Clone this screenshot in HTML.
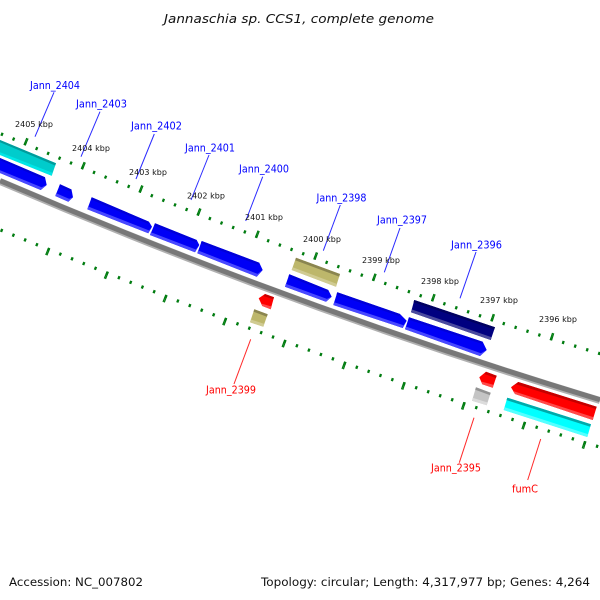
<!DOCTYPE html>
<html><head><meta charset="utf-8"><style>
html,body{margin:0;padding:0;background:#fff}
svg{display:block}
text{font-family:"DejaVu Sans","Liberation Sans",sans-serif}
.g{font-size:10.6px;fill:#0000ff}
.r{font-size:10.6px;fill:#ff0000}
.k{font-size:8px;fill:#111}
.f{font-size:11.5px;fill:#111}
</style></head><body>
<svg width="600" height="600" viewBox="0 0 600 600" xmlns="http://www.w3.org/2000/svg">
<defs>
<g id="o">
<path pathLength="60" d="M-32 118L26 141.7"/><path pathLength="60" d="M26 141.7L83.3 165.7"/><path pathLength="60" d="M83.3 165.7L141 189"/><path pathLength="60" d="M141 189L199 212"/><path pathLength="60" d="M199 212L257.3 234.3"/><path pathLength="60" d="M257.3 234.3L315.7 256"/><path pathLength="60" d="M315.7 256L374.3 277.3"/><path pathLength="60" d="M374.3 277.3L433.3 297.7"/><path pathLength="60" d="M433.3 297.7L492.7 317.7"/><path pathLength="60" d="M492.7 317.7L552 336.7"/><path pathLength="60" d="M552 336.7L612 355"/>
</g>
<g id="i">
<path pathLength="60" d="M-11 228L47.7 251.7"/><path pathLength="60" d="M47.7 251.7L106.3 275.3"/><path pathLength="60" d="M106.3 275.3L165 298.7"/><path pathLength="60" d="M165 298.7L224.7 321.7"/><path pathLength="60" d="M224.7 321.7L284 343.7"/><path pathLength="60" d="M284 343.7L344 365.5"/><path pathLength="60" d="M344 365.5L403.3 386"/><path pathLength="60" d="M403.3 386L463.3 406"/><path pathLength="60" d="M463.3 406L523.7 425.7"/><path pathLength="60" d="M523.7 425.7L584 445"/><path pathLength="60" d="M584 445L645 463"/>
</g>
</defs>

<text x="164" y="23" font-size="12" font-style="italic" fill="#111" textLength="270" lengthAdjust="spacingAndGlyphs">Jannaschia sp. CCS1, complete genome</text>

<!-- ticks -->
<g fill="none" stroke="#007c10">
<use href="#o" stroke-width="3.2" stroke-dasharray="2.2 9.8" stroke-dashoffset="1.1" transform="translate(-0.8 2.1)"/>
<use href="#o" stroke-width="7.5" stroke-dasharray="2.4 57.6" stroke-dashoffset="1.2"/>
<use href="#i" stroke-width="3.2" stroke-dasharray="2.2 9.8" stroke-dashoffset="1.1" transform="translate(0.9 -2.3)"/>
<use href="#i" stroke-width="7.5" stroke-dasharray="2.4 57.6" stroke-dashoffset="1.2"/>
</g>

<!-- backbone -->
<g fill="none">
<path d="M0 181.5Q300 310 600 400.5" stroke="#b0b0b0" stroke-width="7"/>
<path d="M0 180.7Q300 309.2 600 399.7" stroke="#787878" stroke-width="5"/>
</g>

<!-- teal 2404 -->
<polygon points="0,140 56,163.3 51.7,175.7 0,155" fill="#00cccc"/>
<polygon points="0,140 56,163.3 55.2,165.5 0,142.2" fill="#009c9c"/>
<polygon points="0,152.2 52.6,172.9 51.7,175.7 0,155" fill="#00e6e6"/>

<!-- blue genes -->
<g fill="#0000f6">
<polygon points="0,158 45,177.3 46.7,185 40.7,190 0,173"/>
<polygon points="60,184.3 71.5,189.5 73,197.3 68.3,201.7 55.3,196"/>
<polygon points="91.7,197.3 149,221.7 152,226.7 148.3,233.3 87.3,209.3"/>
<polygon points="155,223.3 196.7,240 199.3,245 195,252.3 150,235"/>
<polygon points="201.7,241 259.3,262.7 262.7,270 256.7,276.7 197.3,253.3"/>
<polygon points="289.3,274.3 328.3,290 331.7,296.7 326,301.7 285,286.7"/>
<polygon points="337.3,292.3 400,314 406.7,320.7 402.7,328 333.3,305"/>
<polygon points="409,317.3 482.7,341.7 486.7,350 480,356 405,329.3"/>
</g>
<g fill="#0000d8">
<polygon points="0,158 45,177.3 44.2,179.5 0,160.2"/>
<polygon points="60,184.3 71.5,189.5 70.7,191.7 59.2,186.5"/>
<polygon points="91.7,197.3 149,221.7 148.2,223.9 90.9,199.5"/>
<polygon points="155,223.3 196.7,240 195.9,242.2 154.2,225.5"/>
<polygon points="201.7,241 259.3,262.7 258.5,264.9 200.9,243.2"/>
<polygon points="289.3,274.3 328.3,290 327.5,292.2 288.5,276.5"/>
<polygon points="337.3,292.3 400,314 399.2,316.2 336.5,294.5"/>
<polygon points="409,317.3 482.7,341.7 481.9,343.9 408.2,319.5"/>
</g>
<g fill="#4848ff">
<polygon points="0,173 40.7,190 46.7,185 41.6,187.2 0,170.2"/>
<polygon points="55.3,196 68.3,201.7 73,197.3 69.2,198.9 56.2,193.2"/>
<polygon points="87.3,209.3 148.3,233.3 152,226.7 149.2,230.5 88.2,206.5"/>
<polygon points="150,235 195,252.3 199.3,245 195.9,249.5 150.9,232.2"/>
<polygon points="197.3,253.3 256.7,276.7 262.7,270 257.6,273.9 198.2,250.5"/>
<polygon points="285,286.7 326,301.7 331.7,296.7 326.9,298.9 285.9,283.9"/>
<polygon points="333.3,305 402.7,328 406.7,320.7 403.6,325.2 334.2,302.2"/>
<polygon points="405,329.3 480,356 486.7,350 480.9,353.2 405.9,326.5"/>
</g>

<!-- khaki 2398 -->
<polygon points="296,257.7 340,274 336,286.7 291.7,270" fill="#bdb76b"/>
<polygon points="296,257.7 340,274 339.2,276.6 295.2,260.2" fill="#8a8550"/>
<polygon points="292.6,267.2 336.9,283.9 336,286.7 291.7,270" fill="#d0cb92"/>

<!-- navy 2396 -->
<polygon points="414.3,300 495,327.3 490.7,340 411,312.3" fill="#000080"/>
<polygon points="414.3,300 495,327.3 494.2,329.5 413.5,302.2" fill="#000060"/>
<polygon points="411.9,309.5 491.6,337.2 490.7,340 411,312.3" fill="#4a4a9e"/>

<!-- red 2399 small -->
<polygon points="265,294 274,297.3 270.7,309.3 262.3,306 258.7,298.3" fill="#ff0000"/>
<polygon points="265,294 274,297.3 273.3,299.3 263.5,296" fill="#c80000"/>
<polygon points="262.3,306 270.7,309.3 271.5,306.5 261,303.5" fill="#ff4a4a"/>

<!-- khaki 2399 -->
<polygon points="254.3,309.3 267.7,314.3 263.3,326.7 250,322.3" fill="#bdb76b"/>
<polygon points="254.3,309.3 267.7,314.3 266.9,316.7 253.5,311.7" fill="#8a8550"/>
<polygon points="250.9,319.5 264.2,323.9 263.3,326.7 250,322.3" fill="#d0cb92"/>

<!-- red 2395 small -->
<polygon points="486,371.7 496.7,375.7 492.7,387.7 482.3,384.3 479.3,377.3" fill="#ff0000"/>
<polygon points="486,371.7 496.7,375.7 495.9,378 484.5,374" fill="#c80000"/>
<polygon points="482.3,384.3 492.7,387.7 493.6,384.9 481.2,381.5" fill="#ff4a4a"/>

<!-- gray 2395 -->
<polygon points="476,387.3 490.7,392.7 486.7,405.3 472,400.7" fill="#c4c4c4"/>
<polygon points="476,387.3 490.7,392.7 489.9,395.1 475.2,389.7" fill="#929292"/>
<polygon points="472.9,397.9 487.6,402.5 486.7,405.3 472,400.7" fill="#dcdcdc"/>

<!-- red big -->
<polygon points="518.3,382 596.7,406.7 592.7,420 515,394 511,387.3" fill="#ff0000"/>
<polygon points="518.3,382 596.7,406.7 595.9,409 516,384.3 511,387.3" fill="#c40000"/>
<polygon points="515,394 592.7,420 593.6,417.2 513,391" fill="#ff4a4a"/>

<!-- cyan fumC -->
<polygon points="507.3,397.7 591,424.3 587.3,437 503.7,410" fill="#00ffff"/>
<polygon points="507.3,397.7 591,424.3 590.2,426.7 506.5,400.1" fill="#00aaaa"/>
<polygon points="504.6,407.2 588.2,434.2 587.3,437 503.7,410" fill="#55ffff"/>

<!-- connectors -->
<g stroke="#2a2aff" stroke-width="1" fill="none">
<path d="M54 92.3L35 136.7"/>
<path d="M100 111.7L81 156.7"/>
<path d="M154.3 134L136 179"/>
<path d="M209 155L191 200"/>
<path d="M262.7 176.7L245.7 221"/>
<path d="M340.3 205L323.3 250.7"/>
<path d="M400 228L384.3 272.3"/>
<path d="M476 252L460 298.3"/>
</g>
<g stroke="#ff2a2a" stroke-width="1" fill="none">
<path d="M250.7 339.3L234 384"/>
<path d="M474 417.7L459.3 462.7"/>
<path d="M540.7 439L527.7 480"/>
</g>

<!-- gene labels -->
<text class="g" x="30" y="89" textLength="50" lengthAdjust="spacingAndGlyphs">Jann_2404</text>
<text class="g" x="76" y="107.5" textLength="51" lengthAdjust="spacingAndGlyphs">Jann_2403</text>
<text class="g" x="131" y="129.5" textLength="51" lengthAdjust="spacingAndGlyphs">Jann_2402</text>
<text class="g" x="185" y="151.5" textLength="50" lengthAdjust="spacingAndGlyphs">Jann_2401</text>
<text class="g" x="239" y="172.5" textLength="50" lengthAdjust="spacingAndGlyphs">Jann_2400</text>
<text class="g" x="316.5" y="201.5" textLength="50" lengthAdjust="spacingAndGlyphs">Jann_2398</text>
<text class="g" x="377" y="223.5" textLength="50" lengthAdjust="spacingAndGlyphs">Jann_2397</text>
<text class="g" x="451" y="248.5" textLength="51" lengthAdjust="spacingAndGlyphs">Jann_2396</text>
<text class="r" x="206" y="393.5" textLength="50" lengthAdjust="spacingAndGlyphs">Jann_2399</text>
<text class="r" x="431" y="471.5" textLength="50" lengthAdjust="spacingAndGlyphs">Jann_2395</text>
<text class="r" x="512" y="492.5" textLength="26" lengthAdjust="spacingAndGlyphs">fumC</text>

<!-- kbp labels -->
<text class="k" x="15" y="127" textLength="38">2405 kbp</text>
<text class="k" x="72" y="151" textLength="38">2404 kbp</text>
<text class="k" x="129" y="175" textLength="38">2403 kbp</text>
<text class="k" x="187" y="198.5" textLength="38">2402 kbp</text>
<text class="k" x="245" y="220" textLength="38">2401 kbp</text>
<text class="k" x="303" y="242" textLength="38">2400 kbp</text>
<text class="k" x="362" y="263" textLength="38">2399 kbp</text>
<text class="k" x="421" y="284" textLength="38">2398 kbp</text>
<text class="k" x="480" y="303" textLength="38">2397 kbp</text>
<text class="k" x="539" y="322" textLength="38">2396 kbp</text>

<text class="f" x="9" y="586" textLength="134" lengthAdjust="spacingAndGlyphs">Accession: NC_007802</text>
<text class="f" x="261" y="586" textLength="329" lengthAdjust="spacingAndGlyphs">Topology: circular; Length: 4,317,977 bp; Genes: 4,264</text>
</svg>
</body></html>
